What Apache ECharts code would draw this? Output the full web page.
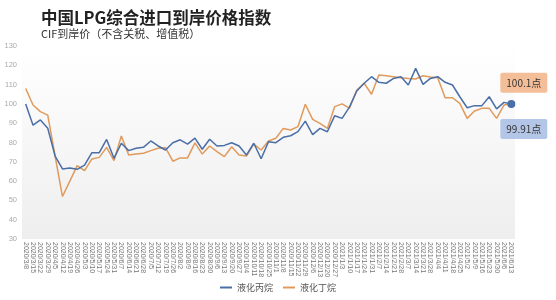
<!DOCTYPE html>
<html>
<head>
<meta charset="utf-8">
<style>
  html, body { margin: 0; padding: 0; background: #fff; }
  #main { width: 556px; height: 300px; }
</style>
<script src="https://cdn.jsdelivr.net/npm/echarts@6/dist/echarts.min.js"></script>
</head>
<body>
<div id="main"></div>
<script>
const chartDom = document.getElementById('main');
const myChart = echarts.init(chartDom);

// 周度日期
let dates = [
  '2020/3/8', '2020/3/15', '2020/3/22', '2020/3/29', '2020/4/5', '2020/4/12', '2020/4/19', '2020/4/26',
  '2020/5/3', '2020/5/10', '2020/5/17', '2020/5/24', '2020/5/31', '2020/6/7', '2020/6/14', '2020/6/21',
  '2020/6/28', '2020/7/5', '2020/7/12', '2020/7/19', '2020/7/26', '2020/8/2', '2020/8/9', '2020/8/16',
  '2020/8/23', '2020/8/30', '2020/9/6', '2020/9/13', '2020/9/20', '2020/9/27', '2020/10/4', '2020/10/11',
  '2020/10/18', '2020/10/25', '2020/11/1', '2020/11/8', '2020/11/15', '2020/11/22', '2020/11/29', '2020/12/6',
  '2020/12/13', '2020/12/20', '2020/12/27', '2021/1/3', '2021/1/10', '2021/1/17', '2021/1/24', '2021/1/31',
  '2021/2/7', '2021/2/14', '2021/2/21', '2021/2/28', '2021/3/7', '2021/3/14', '2021/3/21', '2021/3/28',
  '2021/4/4', '2021/4/11', '2021/4/18', '2021/4/25', '2021/5/2', '2021/5/9', '2021/5/16', '2021/5/23',
  '2021/5/30', '2021/6/6', '2021/6/13'
];
// 液化丙烷指数
let propane = [
  100, 89, 91.7, 87.4, 73, 66.3, 66.8, 66.1, 68.3, 74.7, 74.7, 81.6, 71.8, 79.6, 75.8, 77,
  77.5, 80.8, 78.2, 76.1, 79.9, 81.4, 79.2, 82.3, 76.5, 81.7, 78.2, 78.5, 79.9, 78.2, 73.5, 79.6,
  71.6, 80.4, 79.9, 82.7, 83.5, 85.6, 91.1, 84.1, 87.3, 85.6, 93.9, 92.5, 98.3, 106.7, 110.7, 114.1,
  111.2, 110.7, 113.2, 114.1, 109.8, 118.4, 110.1, 113.2, 114.1, 111.2, 109.8, 103.7, 98, 99.1,
  99.1, 103.7, 97.4, 100.8, 99.91
];
// 液化丁烷指数
let butane = [
  108, 99.4, 96, 94.2, 73, 52, 60, 68, 65.4, 71.5, 72.3, 77.5, 70.6, 83.4, 73.5, 74,
  74.4, 75.8, 77, 77.3, 70.3, 72, 72, 79.8, 74, 78.2, 75.3, 72.7, 77.8, 73.5, 73, 79.2,
  76.1, 80.8, 82.2, 87.3, 86.5, 88.2, 99.8, 92, 89.9, 87.3, 98.6, 100, 97.8, 107.2, 110.7, 105,
  115, 114.6, 114.1, 113.6, 113.2, 112.9, 114.6, 113.9, 113.6, 103.2, 103.2, 100.3, 92.5, 96.3,
  97.7, 97.7, 92.5, 99.4, 100.1
];

const blue = '#4a6ea6';
const orange = '#e09a5c';
const lastIdx = dates.length - 1;

let option = {
  animation: false,
  title: {
    text: '中国LPG综合进口到岸价格指数',
    subtext: 'CIF到岸价（不含关税、增值税）',
    left: 36,
    top: 4,
    itemGap: 3,
    textStyle: {
      fontFamily: 'Noto Sans CJK SC',
      fontSize: 16.5,
      fontWeight: 'bold',
      color: '#222'
    },
    subtextStyle: {
      fontFamily: 'Noto Sans CJK SC',
      fontSize: 11,
      color: '#333'
    }
  },
  legend: {
    bottom: 3,
    left: 'center',
    icon: 'rect',
    itemWidth: 12,
    itemHeight: 2,
    itemGap: 10,
    textStyle: { fontFamily: 'Noto Sans CJK SC', fontSize: 9, color: '#555' },
    data: ['液化丙烷', '液化丁烷']
  },
  grid: {
    left: 22,
    right: 41,
    top: 46,
    bottom: 61,
    show: true,
    borderWidth: 0,
    backgroundColor: new echarts.graphic.LinearGradient(0, 0, 0, 1, [
      { offset: 0, color: 'rgba(255,255,255,1)' },
      { offset: 1, color: '#eeeeee' }
    ])
  },
  xAxis: {
    type: 'category',
    data: dates,
    boundaryGap: true,
    axisLine: { show: false },
    axisTick: { show: false },
    axisLabel: {
      interval: 0,
      rotate: -90,
      margin: 3,
      fontSize: 7,
      color: '#777'
    }
  },
  yAxis: {
    type: 'value',
    min: 30,
    max: 130,
    interval: 10,
    splitLine: { show: false },
    axisLine: { show: false },
    axisTick: { show: false },
    axisLabel: { fontSize: 7.5, color: '#aaa', margin: 5 }
  },
  series: [
    {
      name: '液化丙烷',
      type: 'line',
      data: propane,
      z: 3,
      symbol: 'circle',
      showAllSymbol: true,
      symbolSize: function (val, params) {
        return params.dataIndex === lastIdx ? 8 : 0;
      },
      itemStyle: { color: blue },
      lineStyle: { color: blue, width: 1.5 },
      endLabel: {
        show: true,
        formatter: '{c}点',
        distance: 0,
        offset: [-11, 25],
        backgroundColor: '#b4c6e7',
        borderRadius: 2,
        padding: [5, 6],
        fontFamily: 'Noto Sans CJK SC',
        fontSize: 10,
        color: '#333'
      }
    },
    {
      name: '液化丁烷',
      type: 'line',
      data: butane,
      z: 2,
      symbol: 'none',
      itemStyle: { color: orange },
      lineStyle: { color: orange, width: 1.5 },
      endLabel: {
        show: true,
        formatter: '{c}点',
        distance: 0,
        offset: [-11, -21],
        backgroundColor: '#f4bf98',
        borderRadius: 2,
        padding: [5, 6],
        fontFamily: 'Noto Sans CJK SC',
        fontSize: 10,
        color: '#333'
      }
    }
  ]
};

myChart.setOption(option);
</script>
</body>
</html>
